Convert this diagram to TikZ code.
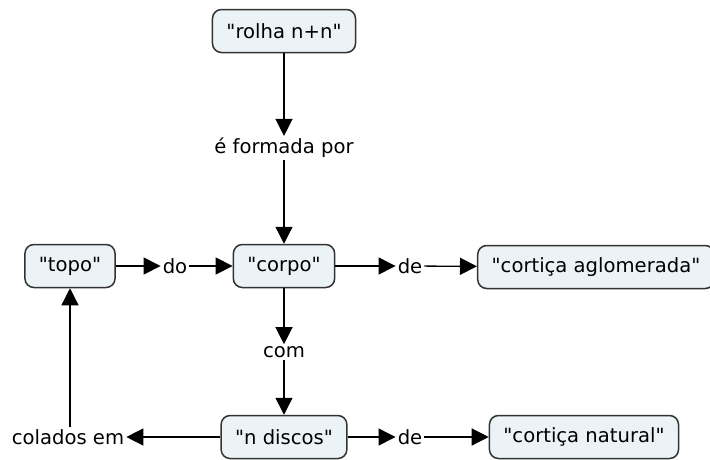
\documentclass[tikz,border=0pt]{standalone}
\usepackage{fontspec}
\setmainfont{DejaVu Sans}[Ligatures=TeXOff]
\usetikzlibrary{arrows.meta}
\definecolor{conceptfill}{RGB}{236,243,247}
\definecolor{conceptline}{RGB}{50,50,50}
\begin{document}
\begin{tikzpicture}[x=1pt,y=-1pt,
        concept/.style = {draw = conceptline, fill = conceptfill, line width = 1.5pt,
            rounded corners = 9pt, minimum height = 43pt, inner xsep = 14pt},
        linking/.style = {inner sep = 2pt},
        link/.style = {line width = 1.3pt, -{Triangle[length=17pt,width=17pt]}}]
                \fontsize{19.6}{23}\selectfont
                \useasboundingbox (0,0) rectangle (710,459);
                \node[concept] (rolha) at (284,31) {"rolha n+n"};
                \node[linking] (formada) at (284,148) {é formada por};
                \node[concept] (corpo) at (284,266) {"corpo"};
                \node[concept] (topo) at (70,266) {"topo"};
                \node[linking] (do) at (175,266) {do};
                \node[linking] (de1) at (410,266) {de};
                \node[concept] (aglom) at (596,267) {"cortiça aglomerada"};
                \node[linking] (com) at (284,352) {com};
                \node[concept] (discos) at (284,437) {"n discos"};
                \node[linking] (colados) at (68,437) {colados em};
                \node[linking] (de2) at (410,437) {de};
                \node[concept] (natural) at (584,437) {"cortiça natural"};
                \draw[link] (rolha) -- (formada);
                \draw[link] (formada) -- (corpo);
                \draw[link] (topo) -- (do);
                \draw[link] (do) -- (corpo);
                \draw[link] (corpo) -- (de1);
                \draw[link] (de1) -- (aglom);
                \draw[link] (corpo) -- (com);
                \draw[link] (com) -- (discos);
                \draw[link] (discos) -- (colados);
                \draw[link] (colados.north -| topo) -- (topo);
                \draw[link] (discos) -- (de2);
                \draw[link] (de2) -- (natural);
            \end{tikzpicture}
\end{document}
